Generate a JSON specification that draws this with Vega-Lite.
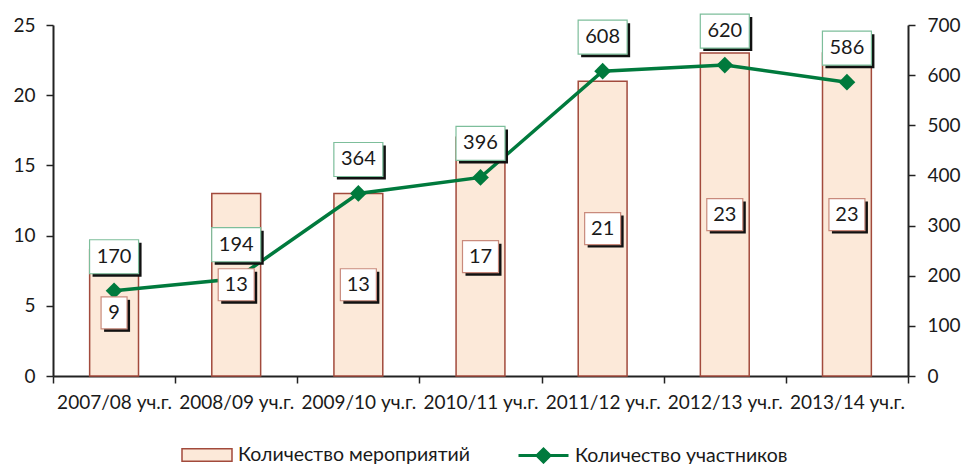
{
  "$schema": "https://vega.github.io/schema/vega-lite/v6.json",
  "autosize": {"type": "none"},
  "width": 855,
  "height": 351,
  "padding": {"left": 53, "top": 25, "right": 56, "bottom": 88},
  "background": "white",
  "config": {
    "view": {"stroke": null},
    "font": "Lato",
    "axis": {"labelFont": "Lato", "labelFontSize": 19, "labelColor": "#1a1a1a", "domainColor": "#222", "tickColor": "#222", "domainWidth": 2, "tickWidth": 1.5, "grid": false, "title": null},
    "legend": {"labelFont": "Lato", "labelFontSize": 19.5, "labelColor": "#1a1a1a"}
  },
  "data": {
    "values": [
      {"year": "2007/08 уч.г.", "events": 9, "participants": 170},
      {"year": "2008/09 уч.г.", "events": 13, "participants": 194},
      {"year": "2009/10 уч.г.", "events": 13, "participants": 364},
      {"year": "2010/11 уч.г.", "events": 17, "participants": 396},
      {"year": "2011/12 уч.г.", "events": 21, "participants": 608},
      {"year": "2012/13 уч.г.", "events": 23, "participants": 620},
      {"year": "2013/14 уч.г.", "events": 23, "participants": 586}
    ]
  },
  "encoding": {
    "x": {
      "field": "year", "type": "nominal", "sort": null,
      "scale": {"paddingInner": 0, "paddingOuter": 0},
      "axis": {"labelAngle": 0, "tickBand": "extent", "tickSize": 7, "labelPadding": 10, "title": null}
    }
  },
  "layer": [
    {
      "mark": {"type": "bar", "width": {"band": 0.4}, "stroke": "#A24A3C", "strokeWidth": 1.5},
      "encoding": {
        "y": {"field": "events", "type": "quantitative", "scale": {"domain": [0, 25], "nice": false},
          "axis": {"orient": "left", "values": [0, 5, 10, 15, 20, 25], "tickSize": 7, "labelPadding": 11}},
        "fill": {"datum": "Количество мероприятий", "type": "nominal",
          "scale": {"range": ["#FCE9D9"]},
          "legend": {"orient": "none", "legendX": 128, "legendY": 404, "title": null,
            "symbolType": "M-1,-0.25L1,-0.25L1,0.25L-1,0.25Z", "symbolSize": 2500,
            "symbolStrokeColor": "#A24A3C", "symbolStrokeWidth": 1.5, "labelOffset": 5, "labelLimit": 400}}
      }
    },
    {
      "mark": {"type": "line", "strokeWidth": 3.5},
      "encoding": {
        "y": {"field": "participants", "type": "quantitative", "scale": {"domain": [0, 700], "nice": false},
          "axis": {"orient": "right", "values": [0, 100, 200, 300, 400, 500, 600, 700], "tickSize": 7, "labelPadding": 12}},
        "stroke": {"datum": "Количество участников", "type": "nominal",
          "scale": {"range": ["#007A3D"]},
          "legend": {"orient": "none", "legendX": 464, "legendY": 404, "title": null,
            "symbolType": "M-1,0L1,0M-0.26,0L0,-0.26L0.26,0L0,0.26Z", "symbolSize": 2500,
            "symbolFillColor": "#007A3D", "symbolStrokeWidth": 3, "labelOffset": 5, "labelLimit": 400}}
      }
    },
    {
      "mark": {"type": "point", "shape": "diamond", "filled": true, "size": 280, "color": "#007A3D", "opacity": 1},
      "encoding": {
        "y": {"field": "participants", "type": "quantitative", "scale": {"domain": [0, 700], "nice": false}, "axis": null}
      }
    },
    {
      "mark": {"type": "point", "shape": "M-1,-0.694L1,-0.694L1,0.694L-1,0.694Z", "size": 2401, "filled": true, "color": "#111", "opacity": 1, "xOffset": 3, "yOffset": -31},
      "encoding": {
        "y": {"field": "participants", "type": "quantitative", "scale": {"domain": [0, 700], "nice": false}, "axis": null}
      }
    },
    {
      "mark": {"type": "point", "shape": "M-1,-0.694L1,-0.694L1,0.694L-1,0.694Z", "size": 2401, "filled": true, "fill": "white", "stroke": "#7DBE9B", "strokeWidth": 1.2, "opacity": 1, "yOffset": -34},
      "encoding": {
        "y": {"field": "participants", "type": "quantitative", "scale": {"domain": [0, 700], "nice": false}, "axis": null}
      }
    },
    {
      "mark": {"type": "text", "fontSize": 20, "font": "Lato", "color": "#1a1a1a", "yOffset": -34, "baseline": "middle"},
      "encoding": {
        "y": {"field": "participants", "type": "quantitative", "scale": {"domain": [0, 700], "nice": false}, "axis": null},
        "text": {"field": "participants", "type": "quantitative"}
      }
    },
    {
      "mark": {"type": "point", "size": 1296, "filled": true, "color": "#111", "opacity": 1, "xOffset": 3, "yOffset": 3},
      "encoding": {
        "y": {"field": "events", "type": "quantitative", "scale": {"domain": [0, 50], "nice": false}, "axis": null},
        "shape": {"condition": {"test": "datum.events < 10", "value": "M-0.722,-0.889L0.722,-0.889L0.722,0.889L-0.722,0.889Z"}, "value": "M-1,-0.889L1,-0.889L1,0.889L-1,0.889Z"}
      }
    },
    {
      "mark": {"type": "point", "size": 1296, "filled": true, "fill": "white", "stroke": "#C98A7C", "strokeWidth": 1.2, "opacity": 1},
      "encoding": {
        "y": {"field": "events", "type": "quantitative", "scale": {"domain": [0, 50], "nice": false}, "axis": null},
        "shape": {"condition": {"test": "datum.events < 10", "value": "M-0.722,-0.889L0.722,-0.889L0.722,0.889L-0.722,0.889Z"}, "value": "M-1,-0.889L1,-0.889L1,0.889L-1,0.889Z"}
      }
    },
    {
      "mark": {"type": "text", "fontSize": 20, "font": "Lato", "color": "#1a1a1a", "baseline": "middle"},
      "encoding": {
        "y": {"field": "events", "type": "quantitative", "scale": {"domain": [0, 50], "nice": false}, "axis": null},
        "text": {"field": "events", "type": "quantitative"}
      }
    }
  ],
  "resolve": {"scale": {"y": "independent", "fill": "independent", "stroke": "independent", "shape": "independent"}}
}
